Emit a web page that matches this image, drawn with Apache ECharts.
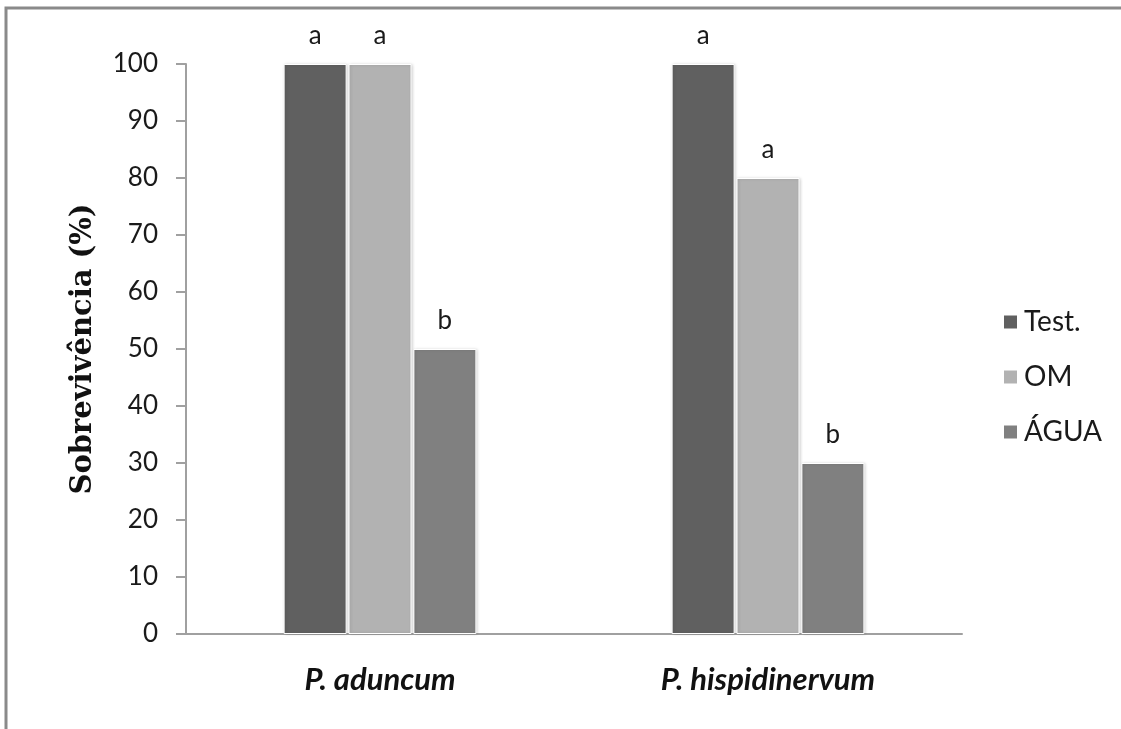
<!DOCTYPE html>
<html>
<head>
<meta charset="utf-8">
<script src="https://cdn.jsdelivr.net/npm/echarts@6/dist/echarts.min.js"></script>
<style>
html,body{margin:0;padding:0;background:#fff;}
#chart{width:1121px;height:729px;}
</style>
</head>
<body>
<div id="chart"></div>
<script>
var categories = ['P. aduncum', 'P. hispidinervum'];
var seriesNames = ['Test.', 'OM', 'ÁGUA'];
var testValues = [100, 100];
var omValues = [100, 80];
var aguaValues = [50, 30];
var testLetters = ['a', 'a'];
var omLetters = ['a', 'a'];
var aguaLetters = ['b', 'b'];
var colors = ['#606060', '#b2b2b2', '#808080'];

var chart = echarts.init(document.getElementById('chart'), null, {renderer: 'canvas'});
var font = 'Lato, "Open Sans", sans-serif';

function makeSeries(name, values, letters, color) {
  return {
    name: name,
    type: 'bar',
    data: values,
    barWidth: 63,
    barGap: '3%',
    itemStyle: {
      color: color,
      borderColor: '#ffffff',
      borderWidth: 1,
      shadowBlur: 3,
      shadowColor: 'rgba(0,0,0,0.18)',
      shadowOffsetX: 1
    },
    label: {
      show: true,
      position: 'top',
      distance: 15,
      formatter: function (p) { return letters[p.dataIndex]; },
      fontFamily: font,
      fontSize: 26,
      color: '#1a1a1a'
    },
    emphasis: {disabled: true}
  };
}

var option = {
  animation: false,
  backgroundColor: '#ffffff',
  grid: {left: 186, right: 159, top: 64, bottom: 95, containLabel: false},
  legend: {
    orient: 'vertical',
    left: 997,
    top: 303,
    itemWidth: 15,
    itemHeight: 15,
    itemGap: 27,
    icon: 'rect',
    data: seriesNames,
    textStyle: {fontFamily: font, fontSize: 28, color: '#1a1a1a', padding: [0, 0, 0, 1]}
  },
  xAxis: {
    type: 'category',
    data: categories,
    axisLine: {show: true, lineStyle: {color: '#a0a0a0', width: 2}},
    axisTick: {show: false},
    axisLabel: {
      margin: 30,
      fontFamily: font,
      fontSize: 31,
      fontWeight: 'bold',
      fontStyle: 'italic',
      color: '#111'
    }
  },
  yAxis: {
    type: 'value',
    min: 0,
    max: 100,
    interval: 10,
    name: 'Sobrevivência (%)',
    nameLocation: 'middle',
    nameGap: 88,
    nameRotate: 90,
    nameTextStyle: {fontFamily: '"DejaVu Serif", serif', fontSize: 29, fontWeight: 'bold', color: '#111'},
    axisLine: {show: true, lineStyle: {color: '#a0a0a0', width: 2}},
    axisTick: {show: true, length: 10, lineStyle: {color: '#a0a0a0', width: 2}},
    splitLine: {show: false},
    axisLabel: {margin: 28, fontFamily: font, fontSize: 26, color: '#1a1a1a'}
  },
  graphic: [{
    type: 'rect',
    shape: {x: 6, y: 8, width: 1300, height: 900},
    style: {fill: 'none', stroke: '#8a8a8a', lineWidth: 3},
    silent: true
  }],
  series: [
    makeSeries(seriesNames[0], testValues, testLetters, colors[0]),
    makeSeries(seriesNames[1], omValues, omLetters, colors[1]),
    makeSeries(seriesNames[2], aguaValues, aguaLetters, colors[2])
  ]
};
chart.setOption(option);
</script>
</body>
</html>
